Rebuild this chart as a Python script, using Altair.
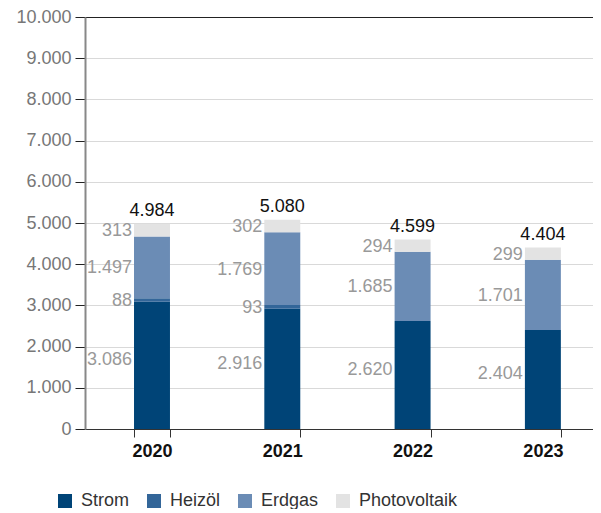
import altair as alt
import pandas as pd

years = ["2020", "2021", "2022", "2023"]
series = ["Strom", "Heizöl", "Erdgas", "Photovoltaik"]
strom = [3086, 2916, 2620, 2404]
heizoel = [88, 93, 0, 0]
erdgas = [1497, 1769, 1685, 1701]
photovoltaik = [313, 302, 294, 299]
totals = [4984, 5080, 4599, 4404]
colors = ["#004477", "#336699", "#6b8cb5", "#e3e3e3"]

def de(v):
    return f"{v:,}".replace(",", ".")

rows = []
for i, y in enumerate(years):
    for k, (name, vals) in enumerate(zip(series, [strom, heizoel, erdgas, photovoltaik])):
        rows.append({"year": y, "series": name, "order": k, "value": vals[i], "label": de(vals[i])})
df = pd.DataFrame(rows)
tot = pd.DataFrame({"year": years, "total": totals, "label": [de(t) for t in totals]})

FONT = "Liberation Sans"
xscale = alt.Scale(domain=years, paddingInner=0.724, paddingOuter=0.3114, align=0.604)
yscale = alt.Scale(domain=[0, 10000], nice=False)

yaxis = alt.Axis(
    title=None,
    values=list(range(0, 10001, 500)),
    labelExpr="datum.value % 1000 == 0 ? replace(format(datum.value, ','), ',', '.') : ''",
    tickOpacity={"condition": {"test": "datum.value % 1000 == 0", "value": 1}, "value": 0},
    gridColor={"condition": {"test": "datum.value == 10000", "value": "#222222"}, "value": "#d9d9d9"},
    domainColor="#888888", domainWidth=2, tickColor="#222222", tickSize=10,
    labelFontSize=18, labelColor="#777777", labelPadding=4,
)
xaxis = alt.Axis(
    title=None, labelAngle=0, labelFontSize=18, labelFontWeight="bold", labelColor="#111111",
    tickBand="extent", tickSize=8, tickColor="#333333", domainColor="#333333", labelPadding=5, grid=False,
)

base = alt.Chart(df)
bars = base.mark_bar().encode(
    x=alt.X("year:N", scale=xscale, axis=xaxis, sort=years),
    y=alt.Y("value:Q", stack="zero", scale=yscale, axis=yaxis),
    color=alt.Color("series:N", scale=alt.Scale(domain=series, range=colors),
                    legend=alt.Legend(title=None, orient="none", legendX=-29, legendY=475,
                                      direction="horizontal", symbolType="square", symbolSize=196,
                                      labelFontSize=18, labelColor="#333333", columnPadding=15,
                                      labelOffset=7, symbolStrokeWidth=0)),
    order=alt.Order("order:Q"),
)

stacked = base.transform_filter("datum.value > 0").transform_stack(
    stack="value", groupby=["year"], as_=["v0", "v1"], sort=[alt.SortField("order")]
).transform_calculate(mid="(datum.v0 + datum.v1) / 2")

def seg_layer(flt, dy):
    return stacked.transform_filter(flt).mark_text(
        align="right", baseline="middle", dx=-20, dy=dy, fontSize=18, color="#999999"
    ).encode(
        x=alt.X("year:N", scale=xscale, sort=years),
        y=alt.Y("mid:Q", scale=yscale),
        text="label:N",
    )

seg_bottom = seg_layer("datum.order == 0", -5)
seg_rest = seg_layer("datum.order > 0", 1)

top = alt.Chart(tot).mark_text(align="center", baseline="bottom", dy=-4, fontSize=18, color="#111111").encode(
    x=alt.X("year:N", scale=xscale, sort=years),
    y=alt.Y("total:Q", scale=yscale),
    text="label:N",
)

chart = alt.layer(bars, seg_bottom, seg_rest, top).properties(
    width=508, height=412,
    autosize=alt.AutoSizeParams(type="none"),
    padding={"left": 77, "top": 9, "right": 0, "bottom": 80},
).configure(font=FONT).configure_view(stroke=None)

chart.save("out.html", embed_options={"renderer": "svg", "actions": False})
